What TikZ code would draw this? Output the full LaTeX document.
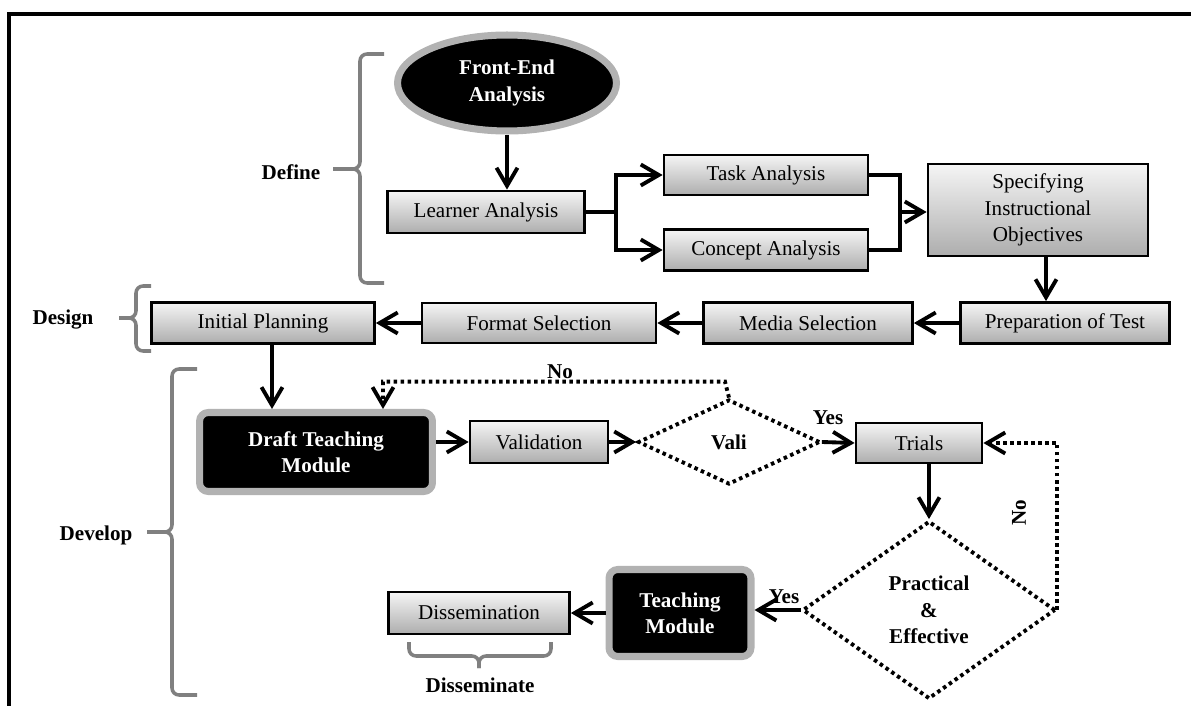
\documentclass[tikz,border=0pt]{standalone}
\usepackage{fontspec}
\setmainfont{Liberation Serif}
\usetikzlibrary{shapes.geometric, arrows.meta, positioning, calc}

\begin{document}
\begin{tikzpicture}[x=0.02cm, y=-0.02cm,
    font=\fontsize{12}{15}\selectfont,
    box/.style={rectangle, draw, line width=1.6pt, top color=black!4, bottom color=black!32, inner sep=0pt, align=center},
    darkbox/.style={rectangle, rounded corners=5pt, fill=black, draw=black!30, line width=4pt, text=white, font=\fontsize{12}{15}\selectfont\bfseries, align=center, inner sep=0pt},
    decision/.style={diamond, draw, line width=2.2pt, dash pattern=on 2pt off 2pt, inner sep=0pt, font=\fontsize{12}{15}\selectfont\bfseries, align=center},
    arrow/.style={-{Straight Barb[length=3.6mm, width=4.2mm]}, line width=2.2pt},
    link/.style={line width=2.2pt},
    dotarrow/.style={arrow, dash pattern=on 2pt off 2pt},
    brk/.style={draw=black!50, line width=2pt, rounded corners=4pt},
    lbl/.style={font=\fontsize{12}{15}\selectfont\bfseries}]
    \useasboundingbox (0,0) rectangle (1191,706);
    \draw[line width=2.6pt] (9,706) -- (9,14) -- (1191,14);

    % define
    \node[ellipse, fill=black, draw=black!30, line width=4pt, minimum width=4.38cm, minimum height=1.92cm, text=white, font=\fontsize{12}{15}\selectfont\bfseries, align=center, inner sep=0pt] (fea) at (507,83) {Front-End\\Analysis};
    \node[box, minimum width=3.94cm, minimum height=0.84cm] (learner) at (486,212) {Learner Analysis};
    \node[box, minimum width=4.08cm, minimum height=0.8cm] (task) at (766,175) {Task Analysis};
    \node[box, minimum width=4.08cm, minimum height=0.82cm] (concept) at (766,250) {Concept Analysis};
    \node[box, minimum width=4.4cm, minimum height=1.84cm] (spec) at (1038,210) {Specifying\\Instructional\\Objectives};

    % design
    \node[box, minimum width=4.18cm, minimum height=0.82cm] (prep) at (1065,323) {Preparation of Test};
    \node[box, minimum width=4.18cm, minimum height=0.82cm] (media) at (808,323) {Media Selection};
    \node[box, minimum width=4.68cm, minimum height=0.8cm] (format) at (539,323) {Format Selection};
    \node[box, minimum width=4.46cm, minimum height=0.82cm] (initial) at (263,323) {Initial Planning};

    % develop
    \node[darkbox, minimum width=4.66cm, minimum height=1.58cm] (draft) at (316,452) {Draft Teaching\\Module};
    \node[box, minimum width=2.76cm, minimum height=0.84cm] (valid) at (539,442) {Validation};
    \node[decision, minimum width=3.64cm, minimum height=1.7cm] (vali) at (729,442) {Vali};
    \node[box, minimum width=2.52cm, minimum height=0.8cm] (trials) at (919,443) {Trials};
    \node[decision, minimum width=5.06cm, minimum height=3.56cm] (practical) at (929,610) {Practical\\\&\\Effective};
    \node[darkbox, minimum width=2.84cm, minimum height=1.74cm] (teaching) at (680,613) {Teaching\\Module};

    % disseminate
    \node[box, minimum width=3.62cm, minimum height=0.84cm] (dissem) at (479,613) {Dissemination};

    % labels
    \node[lbl] (define) at (291,172) {Define};
    \node[lbl] (design) at (63,320) {Design};
    \node[lbl] (develop) at (96,535) {Develop};
    \node[lbl] (disseminate) at (480,685) {Disseminate};
    \node[lbl] (no1) at (560,372) {No};
    \node[lbl] (yes1) at (828,418) {Yes};
    \node[lbl, rotate=90] (no2) at (1019,513) {No};
    \node[lbl] (yes2) at (784,597) {Yes};

    % brackets
    \draw[brk] (384,54) -- (360,54) -- (360,169) -- (333,169);
    \draw[brk] (333,169) -- (360,169) -- (360,283) -- (384,283);
    \draw[brk] (151,286) -- (136,286) -- (136,318) -- (119,318);
    \draw[brk] (119,318) -- (136,318) -- (136,351) -- (151,351);
    \draw[brk] (197,369) -- (172,369) -- (172,532) -- (147,532);
    \draw[brk] (147,532) -- (172,532) -- (172,695) -- (197,695);
    \draw[brk] (409,642) -- (409,656) -- (479,656) -- (479,668);
    \draw[brk] (479,668) -- (479,656) -- (551,656) -- (551,642);

    % connectors
    \draw[arrow] (fea.south) -- (fea.south |- learner.north);
    \draw[link] (learner.east) -- ++(30,0) coordinate (split);
    \draw[arrow] (split) |- (task.west);
    \draw[arrow] (split) |- (concept.west);
    \coordinate (merge) at (900,212);
    \draw[link] (task.east) -| (merge);
    \draw[link] (concept.east) -| (merge);
    \draw[arrow] (merge) -- (merge -| spec.west);
    \coordinate (specout) at ([xshift=0.16cm]spec.south);
    \draw[arrow] (specout) -- (specout |- prep.north);
    \draw[arrow] (prep.west) -- (media.east);
    \draw[arrow] (media.west) -- (format.east);
    \draw[arrow] (format.west) -- (initial.east);
    \coordinate (planout) at ([xshift=0.18cm]initial.south);
    \draw[arrow] (planout) -- (planout |- draft.north);
    \draw[arrow] (valid.west -| draft.east) -- (valid.west);
    \draw[arrow] (valid.east) -- (vali.west);
    \draw[arrow] (vali.east) -- (trials.west);
    \draw[dotarrow] (vali.north) -- ++(-4,-16) -| ([xshift=1.34cm]draft.north);
    \draw[arrow] (trials.south -| practical.north) -- (practical.north);
    \draw[dotarrow] (practical.east) |- (trials.east);
    \draw[arrow] (practical.west) -- (practical.west -| teaching.east);
    \draw[arrow] (teaching.west) -- (dissem.east);
\end{tikzpicture}
\end{document}
